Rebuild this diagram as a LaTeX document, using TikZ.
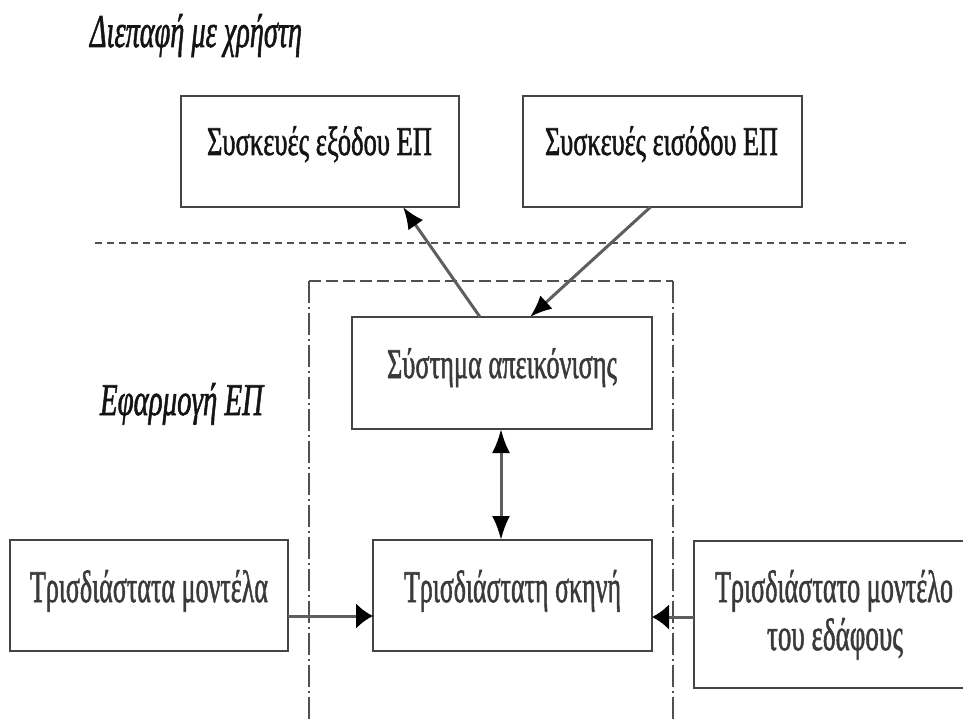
\documentclass[tikz,border=0pt]{standalone}
\usepackage{fontspec}
\setmainfont{Liberation Serif}
\newfontfamily\heavyserif{Liberation Serif}[FakeBold=1.6]
\usepackage{graphicx}
\usetikzlibrary{arrows.meta,calc}

\definecolor{boxgray}{HTML}{444444}
\definecolor{shaft}{HTML}{5E5E5E}
\definecolor{ink}{HTML}{141414}
\definecolor{inklight}{HTML}{3A3A3A}
\definecolor{rulegray}{HTML}{505050}

% text scaled to a given width and cap height, baseline kept
\newcommand\captext[3]{\resizebox{#1}{#2}{\smash{#3}\rule{0pt}{0.662em}}}

\tikzset{
  box/.style={draw=boxgray, line width=2.4pt, fill=white, inner sep=0pt, outer sep=0pt},
  lbl/.style={anchor=base, inner sep=0pt, text=ink, font=\heavyserif},
  lbllight/.style={lbl, text=inklight},
  arr/.style={draw=shaft, line width=3pt},
  harr/.style={arr, -{Latex[length=17pt,width=26pt,color=black]}},
  varr/.style={arr, {Latex[length=24pt,width=18pt,color=black]}-{Latex[length=24pt,width=18pt,color=black]}},
  darr/.style={arr, -{Latex[length=22pt,width=18pt,color=black]}},
  sep/.style={draw=rulegray, line width=2.2pt, dash pattern=on 7pt off 5pt},
  frametop/.style={draw=rulegray, line width=1.6pt, dash pattern=on 12pt off 5pt},
  frameside/.style={draw=rulegray, line width=1.6pt, dash pattern=on 22pt off 4pt on 2pt off 4pt},
}

\begin{document}
\begin{tikzpicture}[x=1pt,y=-1pt]
  \useasboundingbox (0,0) rectangle (963,722);
  \clip (0,0) rectangle (963,722);
  \fill[white] (0,0) rectangle (963,722);

  % section titles
  \node[lbl] (user) at (196,47)
    {\captext{212pt}{31pt}{\itshape Διεπαφή με χρήστη}};
  \node[lbl] (app) at (181.5,415)
    {\captext{163pt}{30pt}{\itshape Εφαρμογή ΕΠ}};

  % separator between the two layers
  \coordinate (sepL) at (95,243);
  \coordinate (sepR) at (910,243);
  \path[sep] (sepL) -- (sepR);

  % frame around the application core (open at the bottom)
  \coordinate (fBL) at (309,725);
  \coordinate (fTL) at (309,281);
  \coordinate (fTR) at (673,281);
  \coordinate (fBR) at (673,725);
  \path[frametop] (fTL) -- (fTR);
  \path[frameside] (fTL) -- (fBL);
  \path[frameside] (fTR) -- (fBR);

  % boxes
  \node[box, minimum width=278pt, minimum height=111pt] (out) at (320,151.5) {};
  \node[box, minimum width=279pt, minimum height=111pt] (in)  at (662.5,151.5) {};
  \node[box, minimum width=300pt, minimum height=112pt] (disp) at (502,373) {};
  \node[box, minimum width=279pt, minimum height=111pt] (scene) at (512.5,595.5) {};
  \node[box, minimum width=278pt, minimum height=111pt] (models) at (149,595.5) {};
  \node[box, minimum width=280pt, minimum height=147pt] (terrain) at (834,614.5) {};

  % box labels
  \node[lbl] (tout) at (319.5,155) {\captext{225pt}{27pt}{Συσκευές εξόδου ΕΠ}};
  \node[lbl] (tin) at (661.5,155) {\captext{233pt}{27pt}{Συσκευές εισόδου ΕΠ}};
  \node[lbllight] (tdisp) at (502,378) {\captext{230pt}{28pt}{Σύστημα απεικόνισης}};
  \node[lbllight] (tscene) at (512.5,602) {\captext{217pt}{30pt}{Τρισδιάστατη σκηνή}};
  \node[lbllight] (tmodels) at (149,602) {\captext{238pt}{30pt}{Τρισδιάστατα μοντέλα}};
  \node[lbllight] (tterr1) at (834,602) {\captext{238pt}{30pt}{Τρισδιάστατο μοντέλο}};
  \node[lbllight] (tterr2) at (835,650) {\captext{136pt}{30pt}{του εδάφους}};

  % connectors
  \draw[darr] ([xshift=-22pt]disp.north) -- ([xshift=83pt]out.south);
  \draw[darr] ([xshift=-12pt]in.south) -- ([xshift=28pt]disp.north);
  \draw[varr] ([xshift=-1pt]disp.south) -- ([xshift=-1pt]disp.south |- scene.north);
  \coordinate (m5) at ([yshift=-20.5pt]models.east);
  \draw[harr] (m5) -- (m5 -| scene.west);
  \coordinate (m6) at ([yshift=-2.5pt]terrain.west);
  \draw[harr] (m6) -- (m6 -| scene.east);
\end{tikzpicture}
\end{document}
